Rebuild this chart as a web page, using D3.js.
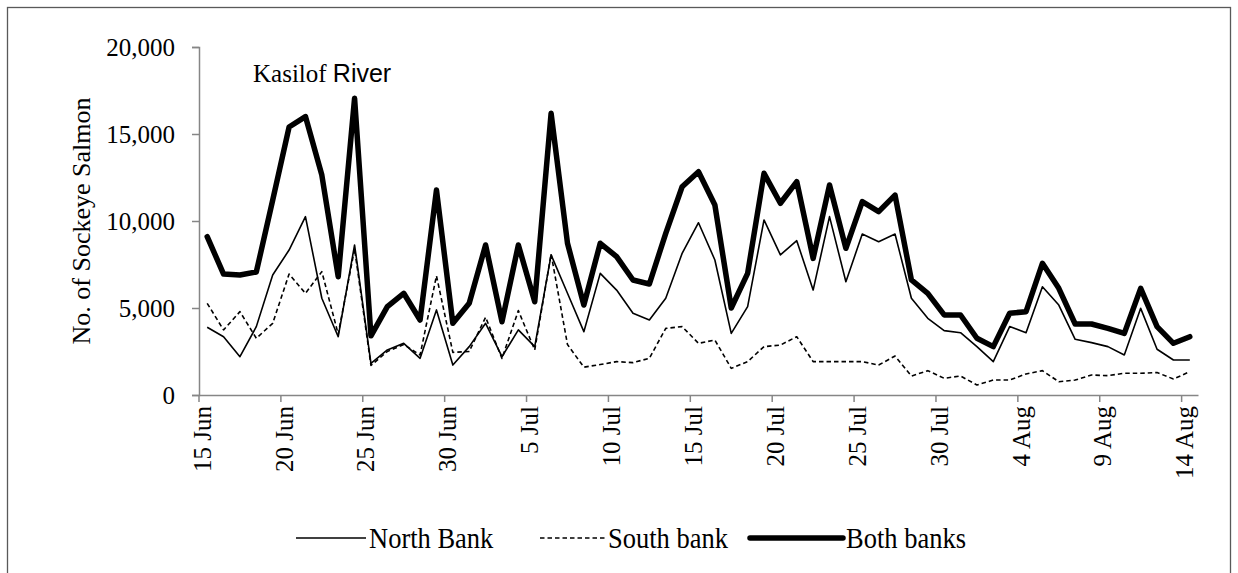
<!DOCTYPE html>
<html>
<head>
<meta charset="utf-8">
<script src="https://cdn.jsdelivr.net/npm/d3@7"></script>
<style>
  html, body { margin: 0; padding: 0; background: #fff; }
  svg { display: block; }
</style>
</head>
<body>
<svg id="chart" width="1238" height="573"></svg>
<script>
const categories = [
  "15 Jun","16 Jun","17 Jun","18 Jun","19 Jun","20 Jun","21 Jun","22 Jun","23 Jun","24 Jun",
  "25 Jun","26 Jun","27 Jun","28 Jun","29 Jun","30 Jun","1 Jul","2 Jul","3 Jul","4 Jul",
  "5 Jul","6 Jul","7 Jul","8 Jul","9 Jul","10 Jul","11 Jul","12 Jul","13 Jul","14 Jul",
  "15 Jul","16 Jul","17 Jul","18 Jul","19 Jul","20 Jul","21 Jul","22 Jul","23 Jul","24 Jul",
  "25 Jul","26 Jul","27 Jul","28 Jul","29 Jul","30 Jul","31 Jul","1 Aug","2 Aug","3 Aug",
  "4 Aug","5 Aug","6 Aug","7 Aug","8 Aug","9 Aug","10 Aug","11 Aug","12 Aug","13 Aug","14 Aug"
];
const tickLabels = ["15 Jun","20 Jun","25 Jun","30 Jun","5 Jul","10 Jul","15 Jul","20 Jul","25 Jul","30 Jul","4 Aug","9 Aug","14 Aug"];
const yTicks = [0, 5000, 10000, 15000, 20000];

const northBank = [3890,3350,2200,3930,6900,8330,10250,5560,3350,8620,1820,
  2590,2970,2110,4890,1720,2780,4120,2200,3740,2780,
  8050,5845,3640,6990,6030,4700,4310,5560,8140,9900,
  7760,3540,5075,10060,8050,8870,6030,10250,6510,9250,8810,
  9250,5560,4410,3700,3580,2780,1920,3930,3580,6220,
  5170,3200,3010,2780,2300,4980,2630,2010,2010];
const southBank = [5270,3740,4790,3260,4120,6950,5845,7090,3500,8400,1700,
  2500,2900,2300,6850,2450,2500,4470,2100,4850,2590,
  8100,2900,1600,1750,1920,1860,2110,3830,3930,2970,
  3160,1530,1920,2780,2870,3350,1920,1920,1920,1920,1720,
  2240,1090,1400,960,1090,575,860,860,1210,1400,
  765,860,1150,1110,1250,1250,1290,920,1340];
const bothBanks = [9100,6950,6900,7070,11200,15400,16000,12640,6800,17050,3400,
  5075,5845,4310,11780,4120,5270,8620,4210,8620,5360,
  16190,8720,5170,8720,7950,6610,6380,9290,11970,12830,
  10920,5000,6990,12740,11020,12260,7850,12070,8430,11110,10540,
  11490,6610,5845,4600,4600,3260,2780,4700,4790,7570,
  6130,4080,4080,3830,3540,6130,3930,2970,3350];

const seriesNames = ["North Bank", "South bank", "Both banks"];
const seriesValues = [northBank, southBank, bothBanks];
const seriesStyle = [
  {w: 1.6, dash: null},
  {w: 1.6, dash: "4.5,3"},
  {w: 5.5, dash: null}
];

const svg = d3.select("#chart");
const serif = "'Liberation Serif', 'Times New Roman', serif";
const sans = "'Liberation Sans', Arial, sans-serif";
const axisColor = "#868686";

svg.append("rect").attr("x", 0).attr("y", 0).attr("width", 1238).attr("height", 573).attr("fill", "#fff");
// outer frame
svg.append("rect").attr("x", 7.5).attr("y", 7.5).attr("width", 1223).attr("height", 600)
  .attr("fill", "none").attr("stroke", "#595959").attr("stroke-width", 1.3);

const x = d3.scaleBand().domain(categories).range([199, 1198]).paddingInner(0).paddingOuter(0);
const bw = x.bandwidth();
const y = d3.scaleLinear().domain([0, 20000]).range([395, 47]);

// Y axis
const yAxis = svg.append("g").attr("transform", "translate(199,0)")
  .call(d3.axisLeft(y).tickValues(yTicks).tickSize(7).tickPadding(17).tickFormat(d3.format(",")));
yAxis.select(".domain").attr("stroke", axisColor).attr("stroke-width", 1.5);
yAxis.selectAll(".tick line").attr("stroke", axisColor).attr("stroke-width", 1.5);
yAxis.selectAll(".tick text").attr("font-family", serif).attr("font-size", 25).attr("fill", "#000");

// X axis
const xAxis = svg.append("g").attr("transform", "translate(0,395)")
  .call(d3.axisBottom(x).tickValues(tickLabels).tickSize(7).tickSizeOuter(0));
xAxis.select(".domain").attr("stroke", axisColor).attr("stroke-width", 1.5);
xAxis.selectAll(".tick line").attr("stroke", axisColor).attr("stroke-width", 1.5)
  .attr("x1", -bw / 2).attr("x2", -bw / 2);
xAxis.selectAll(".tick text")
  .attr("font-family", serif).attr("font-size", 25).attr("fill", "#000")
  .attr("text-anchor", "end").attr("dy", null).attr("y", 0).attr("x", 0)
  .attr("transform", "translate(3.5,11) rotate(-90)");

// Y axis title
svg.append("text")
  .attr("transform", "translate(90,221) rotate(-90)")
  .attr("text-anchor", "middle")
  .attr("font-family", serif).attr("font-size", 26).attr("fill", "#000")
  .text("No. of Sockeye Salmon");

// Chart title
const title = svg.append("text").attr("x", 253).attr("y", 82).attr("font-size", 25).attr("fill", "#000");
title.append("tspan").attr("font-family", serif).text("Kasilof ");
title.append("tspan").attr("font-family", sans).attr("font-size", 25).text("River");

// Lines
const line = d3.line()
  .x((d, i) => x(categories[i]) + bw / 2)
  .y(d => y(d));

seriesValues.forEach((vals, k) => {
  svg.append("path")
    .datum(vals)
    .attr("fill", "none")
    .attr("stroke", "#000")
    .attr("stroke-width", seriesStyle[k].w)
    .attr("stroke-linejoin", "round")
    .attr("stroke-linecap", k === 2 ? "round" : "butt")
    .attr("stroke-dasharray", seriesStyle[k].dash)
    .attr("d", line);
});

// Legend
const legendX = [296, 540, 750];
const legendLen = [70, 65, 93];
const legendY = 538;
seriesNames.forEach((name, k) => {
  const g = svg.append("g");
  g.append("line")
    .attr("x1", legendX[k]).attr("x2", legendX[k] + legendLen[k])
    .attr("y1", legendY).attr("y2", legendY)
    .attr("stroke", "#000").attr("stroke-width", seriesStyle[k].w)
    .attr("stroke-linecap", k === 2 ? "round" : "butt")
    .attr("stroke-dasharray", seriesStyle[k].dash);
  g.append("text")
    .attr("transform", `translate(${legendX[k] + legendLen[k] + 3},${legendY + 10}) scale(1,1.12)`)
    .attr("font-family", serif).attr("font-size", 26.5).attr("fill", "#000")
    .text(name);
});
</script>
</body>
</html>
